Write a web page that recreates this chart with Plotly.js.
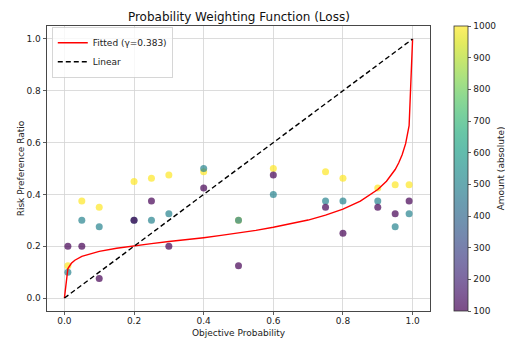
<!DOCTYPE html>
<html>
<head>
<meta charset="utf-8">
<script src="https://cdn.plot.ly/plotly-3.0.1.min.js"></script>
<style>html,body{margin:0;padding:0;background:#fff;}#chart{width:505px;height:338px;}</style>
</head>
<body>
<div id="chart"></div>
<script>
// Observed points (ordered per probability: amount 1000, 500, 100)
const probX = [0.01,0.01,0.01, 0.05,0.05,0.05, 0.1,0.1,0.1, 0.2,0.2,0.2, 0.25,0.25,0.25, 0.3,0.3,0.3,
               0.4,0.4,0.4, 0.5,0.5,0.5, 0.6,0.6,0.6, 0.75,0.75,0.75, 0.8,0.8,0.8, 0.9,0.9,0.9,
               0.95,0.95,0.95, 0.99,0.99,0.99];
const ratioY = [0.125,0.1,0.2, 0.375,0.3,0.2, 0.35,0.275,0.075, 0.45,0.3,0.3, 0.4625,0.3,0.375, 0.475,0.325,0.2,
                0.4875,0.5,0.425, 0.3,0.3,0.125, 0.5,0.4,0.475, 0.4875,0.375,0.35, 0.4625,0.375,0.25, 0.425,0.375,0.35,
                0.4375,0.275,0.325, 0.4375,0.325,0.375];
const amounts = [1000,500,100, 1000,500,100, 1000,500,100, 1000,500,100, 1000,500,100, 1000,500,100,
                 1000,500,100, 1000,500,100, 1000,500,100, 1000,500,100, 1000,500,100, 1000,500,100,
                 1000,500,100, 1000,500,100];

// Fitted curve, values
const fitX = [0, 0.01, 0.02, 0.03, 0.05, 0.075, 0.1, 0.15, 0.2, 0.25, 0.3, 0.35, 0.4, 0.45, 0.5, 0.55, 0.6, 0.65,
              0.7, 0.75, 0.8, 0.85, 0.9, 0.925, 0.95, 0.96, 0.97, 0.98, 0.99, 1.0];
const fitY = [0, 0.114, 0.134, 0.146, 0.161, 0.172, 0.180, 0.192, 0.202, 0.210, 0.218, 0.225, 0.233, 0.242, 0.251,
              0.261, 0.273, 0.286, 0.301, 0.320, 0.343, 0.374, 0.419, 0.451, 0.496, 0.521, 0.553, 0.596, 0.665, 1.0];

const linX = [0, 1];
const linY = [0, 1];

const xTicks = [0, 0.2, 0.4, 0.6, 0.8, 1.0];
const yTicks = [0, 0.2, 0.4, 0.6, 0.8, 1.0];
const cbTicks = [100, 200, 300, 400, 500, 600, 700, 800, 900, 1000];

const viridis = [
 [0,'#440154'],[0.0627,'#48186a'],[0.1255,'#472d7b'],[0.1882,'#424086'],[0.2510,'#3b528b'],
 [0.3137,'#33638d'],[0.3765,'#2c728e'],[0.4392,'#26828e'],[0.5020,'#21918c'],[0.5647,'#1fa088'],
 [0.6275,'#28ae80'],[0.6902,'#3fbc73'],[0.7529,'#5ec962'],[0.8157,'#84d44b'],[0.8784,'#addc30'],
 [0.9412,'#d8e219'],[1,'#fde725']];
// viridis as seen at 70% alpha on white (for the colorbar)
const viridisFaded = [
 [0,'rgb(124,77,135)'],[0.0627,'rgb(127,93,151)'],[0.1255,'rgb(126,108,163)'],[0.1882,'rgb(123,121,170)'],
 [0.2510,'rgb(118,134,174)'],[0.3137,'rgb(112,146,175)'],[0.3765,'rgb(107,156,176)'],[0.4392,'rgb(103,168,176)'],
 [0.5020,'rgb(100,178,175)'],[0.5647,'rgb(98,189,172)'],[0.6275,'rgb(105,198,166)'],[0.6902,'rgb(121,208,157)'],
 [0.7529,'rgb(142,217,145)'],[0.8157,'rgb(169,225,129)'],[0.8784,'rgb(198,230,110)'],[0.9412,'rgb(228,235,94)'],
 [1,'rgb(254,238,102)']];

const FONT = 'DejaVu Sans, sans-serif';

const traces = [
  { // colorbar carrier (invisible markers)
    x: probX, y: ratioY, type: 'scatter', mode: 'markers', showlegend: false, hoverinfo: 'skip',
    marker: {size: 7, opacity: 0, color: amounts, colorscale: viridisFaded, cmin: 100, cmax: 1000, showscale: true,
      colorbar: {
        x: 1.0627, xanchor: 'left', xref: 'paper', y: 0.5, yanchor: 'middle', len: 1, lenmode: 'fraction',
        thickness: 14, thicknessmode: 'pixels', outlinewidth: 0.8, outlinecolor: '#333',
        tickmode: 'array', tickvals: cbTicks, ticks: 'outside', ticklen: 3.5, tickwidth: 0.8, tickcolor: '#333',
        tickfont: {family: FONT, size: 9, color: '#222'}, xpad: 0, ypad: 0,
        title: {text: ''}
      }}
  },
  {
    x: probX, y: ratioY, type: 'scatter', mode: 'markers', showlegend: false,
    marker: {size: 7, opacity: 0.7, color: amounts, colorscale: viridis, cmin: 100, cmax: 1000, showscale: false,
      line: {width: 0}}
  },
  {
    x: fitX, y: fitY, type: 'scatter', mode: 'lines', name: 'Fitted (γ=0.383)',
    line: {color: '#ff0000', width: 1.4}
  },
  {
    x: linX, y: linY, type: 'scatter', mode: 'lines', name: 'Linear',
    line: {color: '#000000', width: 1.4, dash: '5px,3px'}
  }
];

const axisCommon = {
  showline: true, linecolor: '#333', linewidth: 0.9, mirror: true,
  ticks: 'outside', ticklen: 3.5, tickwidth: 0.8, tickcolor: '#333',
  showgrid: true, gridcolor: '#d3d3d3', gridwidth: 0.8, zeroline: false,
  tickfont: {family: FONT, size: 9, color: '#222'}
};

const layout = {
  width: 505, height: 338,
  margin: {l: 47, r: 75, t: 26, b: 27, pad: 0, autoexpand: false},
  paper_bgcolor: '#fff', plot_bgcolor: '#fff',
  font: {family: FONT, color: '#222'},
  title: {text: 'Probability Weighting Function (Loss)', font: {family: FONT, size: 12, color: '#111'},
          x: 0.473, xanchor: 'center', y: 0.95, yanchor: 'middle'},
  xaxis: Object.assign({}, axisCommon, {range: [-0.05, 1.05], tickmode: 'array', tickvals: xTicks,
          ticktext: xTicks.map(v => v.toFixed(1)), ticklabelstandoff: -2,
          title: {text: 'Objective Probability', font: {family: FONT, size: 9, color: '#222'}, standoff: 4}}),
  yaxis: Object.assign({}, axisCommon, {range: [-0.05, 1.05], tickmode: 'array', tickvals: yTicks,
          ticktext: yTicks.map(v => v.toFixed(1)),
          title: {text: 'Risk Preference Ratio', font: {family: FONT, size: 9, color: '#222'}, standoff: 0}}),
  legend: {x: 0.013, y: 0.995, xanchor: 'left', yanchor: 'top', bgcolor: 'rgba(255,255,255,0.8)',
           bordercolor: '#cccccc', borderwidth: 0.8, font: {family: FONT, size: 9, color: '#222'},
           tracegroupgap: 0, itemwidth: 30},
  annotations: [{
    text: 'Amount (absolute)', xref: 'paper', yref: 'paper', x: 1.185, y: 0.5, xanchor: 'center', yanchor: 'middle',
    textangle: -90, showarrow: false, font: {family: FONT, size: 9, color: '#222'}
  }],
  showlegend: true
};

Plotly.newPlot('chart', traces, layout, {displayModeBar: false, staticPlot: true});
</script>
</body>
</html>
